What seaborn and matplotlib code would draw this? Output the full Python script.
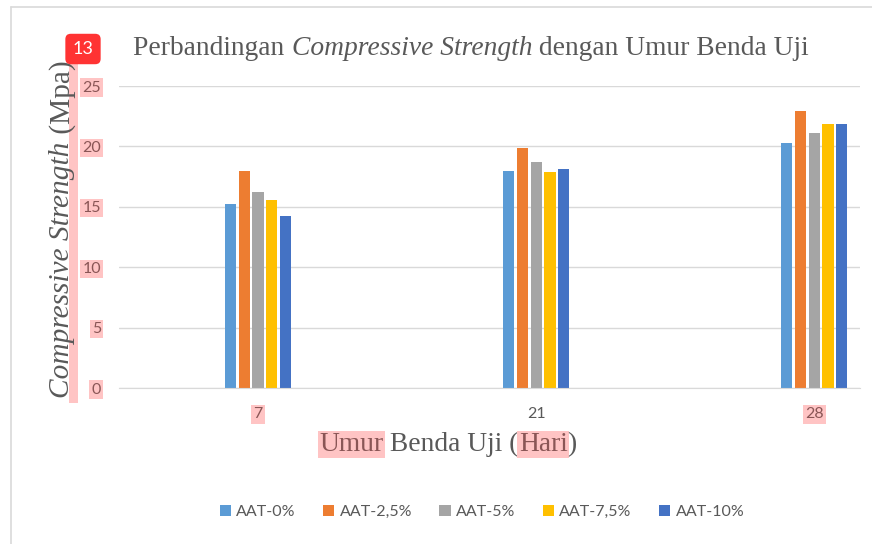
import numpy as np
import pandas as pd
import matplotlib
matplotlib.use('Agg')
import matplotlib.pyplot as plt
import seaborn as sns
from matplotlib.patches import Rectangle
from matplotlib.lines import Line2D
from matplotlib.transforms import IdentityTransform

# values
umur = ['7', '21', '28']
series = ['AAT-0%', 'AAT-2,5%', 'AAT-5%', 'AAT-7,5%', 'AAT-10%']
aat_0 = [15.2, 17.95, 20.3]
aat_25 = [18.0, 19.85, 22.95]
aat_5 = [16.25, 18.7, 21.1]
aat_75 = [15.6, 17.85, 21.85]
aat_10 = [14.25, 18.15, 21.85]
colors = ['#5B9BD5', '#ED7D31', '#A5A5A5', '#FFC000', '#4472C4']
y_ticks = [0, 5, 10, 15, 20, 25]
highlighted_x = ['7', '28']

df = pd.DataFrame({
    'umur': umur * len(series),
    'seri': np.repeat(series, len(umur)),
    'nilai': aat_0 + aat_25 + aat_5 + aat_75 + aat_10,
})

sns.set_style('white')
plt.rcParams['font.family'] = ['Lato', 'DejaVu Sans']

GREY = '#595959'
PINK = '#ffc4c4'
HL_TEXT = '#8a5656'
SERIF = 'Liberation Serif'


def rich_text(fig, cx, cy, pieces, size, rotation=0):
    """Place text pieces (string, italic, highlight) end to end, centred on pixel (cx, cy)."""
    texts = []
    for s, italic, hl in pieces:
        t = fig.text(0, 0, s, fontsize=size, color=HL_TEXT if hl else GREY, family=SERIF,
                     style='italic' if italic else 'normal', rotation=rotation,
                     ha='left', va='baseline', rotation_mode='anchor',
                     transform=IdentityTransform())
        if hl:
            t.set_bbox(dict(facecolor=PINK, edgecolor='none', pad=1))
        texts.append(t)
    fig.canvas.draw()
    r = fig.canvas.get_renderer()
    lengths = []
    for t in texts:
        ext = t.get_window_extent(r)
        lengths.append(ext.height if rotation else ext.width)
    total = sum(lengths)
    h = texts[0].get_window_extent(r)
    thick = h.width if rotation else h.height
    cursor = -total / 2
    for t, L in zip(texts, lengths):
        if rotation:
            t.set_position((cx + thick * 0.28, cy + cursor))
        else:
            t.set_position((cx + cursor, cy - thick * 0.28))
        cursor += L
    return texts


fig = plt.figure(figsize=(8.72, 5.44), dpi=100)
ax = fig.add_axes([119 / 872, 1 - 388 / 544, 741 / 872, 302 / 544])

sns.barplot(data=df, x='umur', y='nilai', hue='seri', order=umur, hue_order=series,
            palette=colors, saturation=1, width=0.25, gap=0.2, linewidth=0, ax=ax)

ax.set_ylim(0, 25)
ax.set_xlim(-0.5, 2.165)
ax.set_yticks(y_ticks)
ax.set_yticklabels([str(t) for t in y_ticks])
ax.yaxis.grid(True, color='#d9d9d9', linewidth=1)
ax.set_axisbelow(True)
for side in ['left', 'right', 'top']:
    ax.spines[side].set_visible(False)
ax.spines['bottom'].set_color('#d9d9d9')
ax.tick_params(axis='both', length=0, labelsize=11.5, labelcolor=GREY)
ax.tick_params(axis='y', pad=13)
ax.tick_params(axis='x', pad=14)
ax.set_xlabel('')
ax.set_ylabel('')

# pink search highlights seen in the reference
for lab in ax.get_yticklabels():
    lab.set_color(HL_TEXT)
    lab.set_bbox(dict(facecolor=PINK, edgecolor='none', pad=1.5))
for lab in ax.get_xticklabels():
    if lab.get_text() in highlighted_x:
        lab.set_color(HL_TEXT)
        lab.set_bbox(dict(facecolor=PINK, edgecolor='none', pad=1.5))

handles, labels = ax.get_legend_handles_labels()
ax.get_legend().remove()
fig.legend(handles, labels, loc='center', bbox_to_anchor=(482 / 872, 1 - 512 / 544),
           ncol=5, frameon=False, fontsize=11.5, labelcolor=GREY,
           handlelength=0.7, handleheight=0.7, handletextpad=0.35, columnspacing=1.7)

# pink strip over the y label
fig.add_artist(Rectangle((69 / 872, 1 - 403 / 544), 9 / 872, 340 / 544,
                         transform=fig.transFigure, facecolor=PINK, edgecolor='none', zorder=0))

H = 544
rich_text(fig, 471, H - 48, [('Perbandingan ', False, False),
                             ('Compressive Strength', True, False),
                             (' dengan Umur Benda Uji', False, False)], 19.85)
rich_text(fig, 62, H - 229, [('Compressive Strength', True, False),
                             (' (Mpa)', False, False)], 21.2, rotation=90)
rich_text(fig, 448, H - 444, [('Umur', False, True), (' Benda Uji (', False, False),
                              ('Hari', False, True), (')', False, False)], 19.8)

# page number badge
fig.text(83 / 872, 1 - 49 / 544, '13', ha='center', va='center', fontsize=13, color='white',
         bbox=dict(boxstyle='round,pad=0.4,rounding_size=0.3', facecolor='#ff3333', edgecolor='none'))

# chart border (cropped on the right and bottom)
fig.add_artist(Line2D([11 / 872, 11 / 872], [0, 1 - 7 / 544], transform=fig.transFigure,
                      color='#d9d9d9', linewidth=1.2))
fig.add_artist(Line2D([11 / 872, 1], [1 - 7 / 544, 1 - 7 / 544], transform=fig.transFigure,
                      color='#d9d9d9', linewidth=1.2))

fig.savefig('out.png', dpi=100)
